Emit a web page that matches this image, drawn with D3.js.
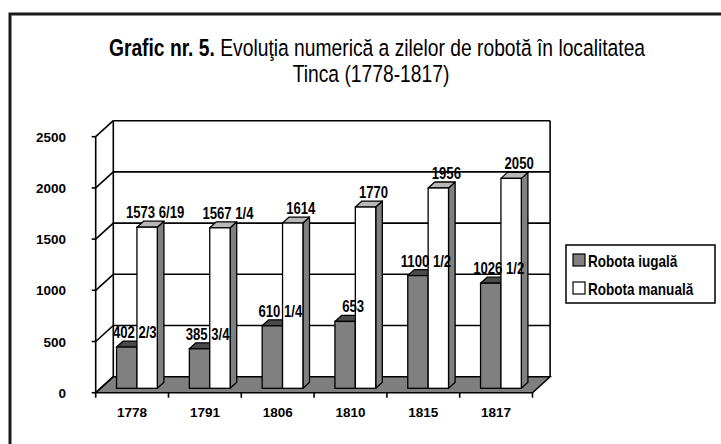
<!DOCTYPE html>
<html>
<head>
<meta charset="utf-8">
<script src="https://cdn.jsdelivr.net/npm/d3@7"></script>
<style>
  html, body { margin: 0; padding: 0; background: #fff; }
  svg { display: block; }
  text { font-family: "Liberation Sans", Arial, sans-serif; }
</style>
</head>
<body>
<svg id="chart" width="721" height="444"></svg>
<script>
const years = ["1778", "1791", "1806", "1810", "1815", "1817"];
const iugala = [402.67, 385.75, 610.25, 653, 1100.5, 1026.5];
const manuala = [1573.32, 1567.25, 1614, 1770, 1956, 2050];
const iugalaLabels = ["402 2/3", "385 3/4", "610 1/4", "653", "1100 1/2", "1026 1/2"];
const manualaLabels = ["1573 6/19", "1567 1/4", "1614", "1770", "1956", "2050"];
const yTicks = [0, 500, 1000, 1500, 2000, 2500];
const seriesNames = ["Robota iugală", "Robota manuală"];

const svg = d3.select("#chart");
const NARROW = 0.82;
function narrowText(parent, px, py, size, anchor, weight) {
  return parent.append("g").attr("transform", `translate(${px},${py})`)
    .append("text").attr("transform", `scale(${NARROW},1)`)
    .attr("text-anchor", anchor).attr("font-size", size)
    .attr("font-weight", weight).attr("fill", "#000");
}

const DX = 17.6, DY = 16;
const x = d3.scaleBand().domain(years).range([95.7, 532.5]);
const y = d3.scaleLinear().domain([0, 2500]).range([392.7, 136.7]);
const P = (px, v, d) => [px + d * DX, y(v) - d * DY];
const line = d3.line();

// outer border
svg.append("rect").attr("x", 10).attr("y", 14).attr("width", 760).attr("height", 480)
  .attr("fill", "none").attr("stroke", "#1a1a1a").attr("stroke-width", 3);

// title
const t1 = narrowText(svg, 377, 56, 23.5, "middle", "normal");
t1.append("tspan").attr("font-weight", "bold").text("Grafic nr. 5.");
t1.append("tspan").text(" Evoluţia numerică a zilelor de robotă în localitatea");
narrowText(svg, 371, 82, 23.5, "middle", "normal").text("Tinca (1778-1817)");

const x0 = x.range()[0], x1 = x.range()[1];
const g = svg.append("g");

// floor
g.append("path")
  .attr("d", line([P(x0, 0, 0), P(x1, 0, 0), P(x1, 0, 1), P(x0, 0, 1)]) + "Z")
  .attr("fill", "#7f7f7f").attr("stroke", "#000").attr("stroke-width", 1.5);

// back wall gridlines and left-wall diagonals
yTicks.forEach(v => {
  if (v > 0) {
    g.append("path").attr("d", line([P(x0, v, 1), P(x1, v, 1)]))
      .attr("stroke", "#000").attr("stroke-width", 1.6).attr("fill", "none");
  }
  g.append("path").attr("d", line([P(x0, v, 0), P(x0, v, 1)]))
    .attr("stroke", "#000").attr("stroke-width", 1.6).attr("fill", "none");
  g.append("path").attr("d", line([[x0 - 4, y(v)], [x0, y(v)]]))
    .attr("stroke", "#000").attr("stroke-width", 1.6);
});
// wall verticals
g.append("path").attr("d", line([P(x0, 0, 1), P(x0, 2500, 1)])).attr("stroke", "#000").attr("stroke-width", 1.6);
g.append("path").attr("d", line([P(x1, 0, 1), P(x1, 2500, 1)])).attr("stroke", "#000").attr("stroke-width", 1.6);
g.append("path").attr("d", line([P(x0, 0, 0), P(x0, 2500, 0)])).attr("stroke", "#000").attr("stroke-width", 1.6);

// x-axis ticks on front edge
g.append("path").attr("d", line([[x0, y(0)], [x0, y(0) + 5]])).attr("stroke", "#000").attr("stroke-width", 1.6);
years.forEach(c => {
  const px = x(c) + x.bandwidth();
  g.append("path").attr("d", line([[px, y(0)], [px, y(0) + 5]])).attr("stroke", "#000").attr("stroke-width", 1.6);
});

// y tick labels
svg.append("g").selectAll("text").data(yTicks).join("text")
  .attr("x", 66).attr("y", d => y(d) + 5)
  .attr("text-anchor", "end").attr("font-size", 13.5).attr("font-weight", "bold")
  .text(d => d);

// category labels
svg.append("g").selectAll("text").data(years).join("text")
  .attr("x", d => x(d) + x.bandwidth() / 2).attr("y", 417)
  .attr("text-anchor", "middle").attr("font-size", 13.5).attr("font-weight", "bold")
  .text(d => d);

// bars
const bw = x.bandwidth();
const barW = bw * 0.28;
const dF = 0.275, dB = 0.65;
const series = [
  { vals: iugala, labels: iugalaLabels, front: "#808080", top: "#4a4a4a", side: "#5a5a5a" },
  { vals: manuala, labels: manualaLabels, front: "#ffffff", top: "#b8b8b8", side: "#808080" }
];
const bars = svg.append("g");
years.forEach((c, i) => {
  series.forEach((s, k) => {
    const v = s.vals[i];
    const xl = x(c) + (bw - 2 * barW) / 2 + k * barW;
    const xr = xl + barW;
    bars.append("path")
      .attr("d", line([P(xr, 0, dF), P(xr, v, dF), P(xr, v, dB), P(xr, 0, dB)]) + "Z")
      .attr("fill", s.side).attr("stroke", "#000").attr("stroke-width", 1.3).attr("stroke-linejoin", "round");
    bars.append("path")
      .attr("d", line([P(xl, v, dF), P(xr, v, dF), P(xr, v, dB), P(xl, v, dB)]) + "Z")
      .attr("fill", s.top).attr("stroke", "#000").attr("stroke-width", 1.3).attr("stroke-linejoin", "round");
    const a = P(xl, v, dF), b = P(xr, 0, dF);
    bars.append("rect").attr("x", a[0]).attr("y", a[1]).attr("width", b[0] - a[0]).attr("height", b[1] - a[1])
      .attr("fill", s.front).attr("stroke", "#000").attr("stroke-width", 1.3);
  });
});

// value labels
const lab = svg.append("g");
years.forEach((c, i) => {
  series.forEach((s, k) => {
    const v = s.vals[i];
    const xl = x(c) + (bw - 2 * barW) / 2 + k * barW;
    const p = P(xl + barW / 2, v, dF);
    narrowText(lab, p[0] + 8, p[1] - 9, 16, "middle", "bold").text(s.labels[i]);
  });
});

// legend
const lg = svg.append("g");
lg.append("rect").attr("x", 566).attr("y", 245).attr("width", 149).attr("height", 58)
  .attr("fill", "#fff").attr("stroke", "#000").attr("stroke-width", 1.5);
seriesNames.forEach((n, k) => {
  lg.append("rect").attr("x", 573).attr("y", 254 + k * 28).attr("width", 12).attr("height", 12)
    .attr("fill", series[k].front).attr("stroke", "#000").attr("stroke-width", 1.2);
  narrowText(lg, 588, 266.5 + k * 28, 16.5, "start", "bold").text(n);
});
</script>
</body>
</html>
